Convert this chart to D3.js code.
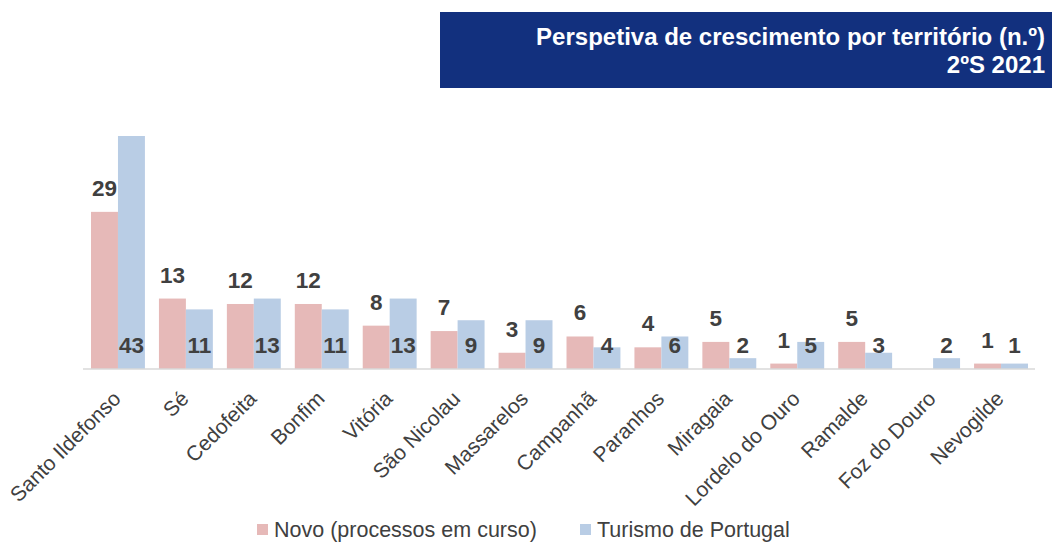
<!DOCTYPE html>
<html>
<head>
<meta charset="utf-8">
<script src="https://cdn.jsdelivr.net/npm/d3@7"></script>
<style>
    body{ margin:0; background:#fff; }
    svg{ display:block; font-family:"Liberation Sans", Arial, sans-serif; }
</style>
</head>
<body>
<svg id="chart" width="1052" height="542"></svg>
<script>
var territorios = ["Santo Ildefonso", "Sé", "Cedofeita", "Bonfim", "Vitória", "São Nicolau",
    "Massarelos", "Campanhã", "Paranhos", "Miragaia", "Lordelo do Ouro", "Ramalde",
    "Foz do Douro", "Nevogilde"];
var novo = [29, 13, 12, 12, 8, 7, 3, 6, 4, 5, 1, 5, 0, 1];
var turismo = [43, 11, 13, 11, 13, 9, 9, 4, 6, 2, 5, 3, 2, 1];
var series = ["Novo (processos em curso)", "Turismo de Portugal"];
var titleLines = ["Perspetiva de crescimento por território (n.º)", "2ºS 2021"];

var colors = ["#E6B9B8", "#B9CDE5"];
var textColor = "#404040";

var svg = d3.select("#chart");

// title box, top right
var head = svg.append("g");
head.append("rect")
    .attr("x", 440).attr("y", 12)
    .attr("width", 612).attr("height", 76)
    .attr("fill", "#12307E");
head.selectAll("text").data(titleLines).enter().append("text")
    .attr("x", 1045)
    .attr("y", function(d, i){ return 45 + i * 28; })
    .attr("text-anchor", "end")
    .attr("fill", "#fff")
    .attr("font-weight", "bold")
    .attr("font-size", "24px")
    .text(function(d){ return d; });

var x = d3.scaleBand().domain(territorios).range([84, 1035]);
var xSub = d3.scaleBand().domain([0, 1]).range([0, x.bandwidth()]).paddingOuter(0.26);
var y = d3.scaleLinear().domain([0, 43]).range([369, 136]);

var rows = territorios.map(function(t, i){
    return {name: t, values: [novo[i], turismo[i]]};
});

var groups = svg.selectAll("g.grp").data(rows).enter().append("g")
    .attr("class", "grp")
    .attr("transform", function(d){ return "translate(" + x(d.name) + ",0)"; });

groups.selectAll("rect").data(function(d){ return d.values; }).enter().append("rect")
    .attr("x", function(d, i){ return xSub(i); })
    .attr("y", function(d){ return y(d); })
    .attr("width", xSub.bandwidth())
    .attr("height", function(d){ return y(0) - y(d); })
    .attr("fill", function(d, i){ return colors[i]; });

// labels: novo above the bar, turismo at the base
groups.selectAll("text.val").data(function(d){ return d.values; }).enter()
    .append("text")
    .attr("class", "val")
    .attr("x", function(d, i){ return xSub(i) + xSub.bandwidth() / 2; })
    .attr("y", function(d, i){ return i == 0 ? y(d) - 16 : 353; })
    .attr("text-anchor", "middle")
    .attr("font-weight", "bold")
    .attr("font-size", "22.5px")
    .attr("fill", textColor)
    .style("display", function(d){ return d > 0 ? null : "none"; })
    .text(function(d){ return d; });

// axis
var axis = svg.append("g")
    .attr("transform", "translate(0," + y(0) + ")")
    .call(d3.axisBottom(x).tickSize(0).tickPadding(0));
axis.select(".domain").attr("stroke", "#D9D9D9").attr("stroke-width", 1.5)
    .attr("d", "M83,0H1035");
axis.selectAll(".tick text")
    .attr("font-size", "21px")
    .attr("font-family", "Liberation Sans, Arial, sans-serif")
    .attr("fill", "#404040")
    .attr("text-anchor", "end")
    .attr("dy", 0)
    .attr("transform", "translate(4,31) rotate(-45)");

// legend
var legend = svg.append("g");
var legendX = [257, 580];
series.forEach(function(s, i){
    legend.append("rect")
        .attr("x", legendX[i]).attr("y", 524)
        .attr("width", 11).attr("height", 11)
        .attr("fill", colors[i]);
    legend.append("text")
        .attr("x", legendX[i] + 17).attr("y", 537)
        .attr("font-size", "21.5px")
        .attr("fill", "#404040")
        .text(s);
});
</script>
</body>
</html>
